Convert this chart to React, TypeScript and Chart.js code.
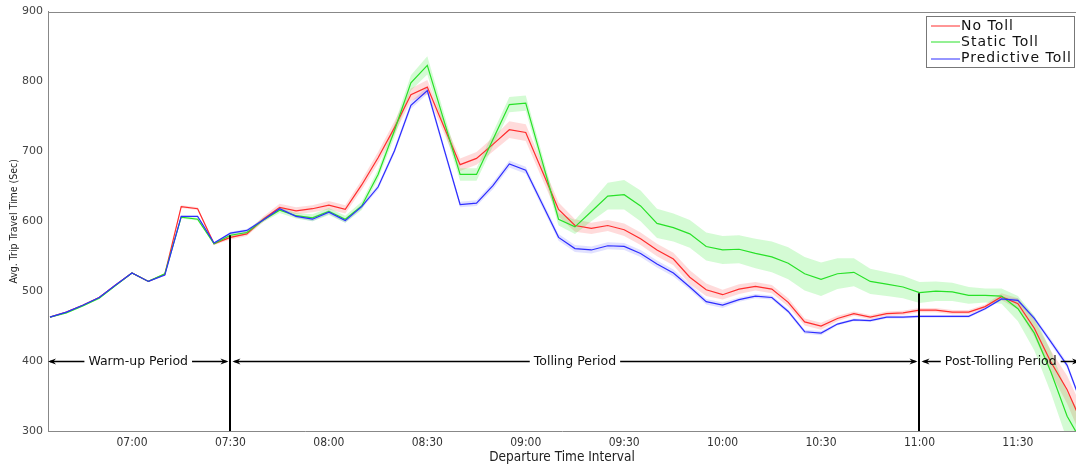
import React, { useEffect, useRef } from "react";
import { Chart, registerables } from "chart.js";

Chart.register(...registerables);

// ---- data ----
const timeLabels = [
  "06:35", "06:40", "06:45", "06:50", "06:55", "07:00", "07:05", "07:10", "07:15", "07:20",
  "07:25", "07:30", "07:35", "07:40", "07:45", "07:50", "07:55", "08:00", "08:05", "08:10",
  "08:15", "08:20", "08:25", "08:30", "08:35", "08:40", "08:45", "08:50", "08:55", "09:00",
  "09:05", "09:10", "09:15", "09:20", "09:25", "09:30", "09:35", "09:40", "09:45", "09:50",
  "09:55", "10:00", "10:05", "10:10", "10:15", "10:20", "10:25", "10:30", "10:35", "10:40",
  "10:45", "10:50", "10:55", "11:00", "11:05", "11:10", "11:15", "11:20", "11:25", "11:30",
  "11:35", "11:40", "11:45", "11:50",
];

const noToll = [
  463, 470, 480, 491, 509, 526, 514, 524, 621, 618,
  568, 577, 582, 603, 620, 615, 618, 623, 617, 652,
  691, 734, 781, 792, 736, 681, 690, 710, 731, 727,
  672, 617, 594, 590, 594, 588, 575, 559, 546, 520,
  502, 495, 503, 507, 503, 484, 456, 450, 461, 468,
  463, 468, 469, 473, 473, 470, 470, 478, 492, 482,
  447, 399, 359, 306,
];

const staticToll = [
  463, 469, 479, 490, 508, 526, 514, 525, 606, 603,
  568, 580, 584, 602, 616, 608, 605, 614, 603, 622,
  667, 730, 798, 823, 745, 667, 667, 717, 767, 769,
  686, 603, 592, 614, 636, 638, 622, 597, 591, 582,
  564, 559, 560, 554, 549, 540, 525, 517, 525, 527,
  514, 510, 506, 498, 500, 499, 494, 494, 493, 475,
  440, 385, 321, 280,
];

const predictiveToll = [
  463, 470, 480, 491, 509, 526, 514, 523, 607, 607,
  569, 583, 587, 602, 618, 607, 603, 613, 601, 621,
  649, 701, 766, 787, 705, 624, 626, 651, 682, 673,
  625, 577, 561, 559, 565, 564, 554, 539, 526, 506,
  485, 480, 488, 493, 491, 471, 442, 440, 453, 459,
  458, 463, 463, 464, 464, 464, 464, 475, 489, 487,
  461, 428, 394, 331,
];

// half-width of the shaded band around each series
const noTollSpread = [
  1, 1, 1, 1, 1, 1, 1, 1, 2, 2,
  2, 3, 3, 4, 5, 5, 5, 6, 6, 7,
  8, 9, 9, 10, 9, 9, 9, 10, 12, 12,
  11, 10, 9, 8, 8, 9, 9, 9, 9, 10,
  9, 7, 7, 6, 6, 6, 5, 5, 4, 3,
  3, 3, 3, 3, 3, 3, 3, 3, 5, 8,
  12, 16, 20, 22,
];

const staticTollSpread = [
  1, 1, 1, 1, 1, 1, 1, 1, 2, 2,
  2, 3, 3, 3, 4, 4, 5, 5, 5, 6,
  7, 9, 11, 13, 11, 9, 9, 10, 11, 11,
  10, 9, 10, 14, 19, 21, 22, 21, 20, 20,
  20, 20, 20, 21, 22, 23, 24, 24, 22, 20,
  18, 17, 16, 15, 14, 13, 12, 10, 11, 18,
  25, 30, 34, 38,
];

const predictiveTollSpread = [
  1, 1, 1, 1, 1, 1, 1, 1, 1, 1,
  1, 2, 2, 2, 2, 2, 3, 3, 3, 3,
  4, 4, 5, 5, 5, 4, 4, 5, 5, 5,
  5, 5, 5, 5, 5, 5, 5, 5, 5, 4,
  4, 4, 3, 3, 3, 3, 3, 3, 2, 2,
  2, 2, 2, 2, 2, 2, 2, 2, 2, 3,
  3, 4, 4, 4,
];

const xTickLabels = ["07:00", "07:30", "08:00", "08:30", "09:00", "09:30", "10:00", "10:30", "11:00", "11:30"];
const xAxisRange = [394.4, 707.7]; // minutes after midnight
const yAxisRange = [300, 900];

const periodLabels = ["Warm-up Period", "Tolling Period", "Post-Tolling Period"];
const periodBounds = ["07:30", "11:00"];
const periodMarkerTops = [580, 497];
const periodArrowValue = 400;

const legendLabels = ["No Toll", "Static Toll", "Predictive Toll"];

const COLORS = {
  red: "rgb(255,45,45)",
  green: "rgb(40,225,40)",
  blue: "rgb(45,45,255)",
  redFill: "rgba(255,40,40,0.17)",
  greenFill: "rgba(40,235,40,0.2)",
  blueFill: "rgba(40,40,255,0.14)",
};

const toMin = (s: string) => {
  const [h, m] = s.split(":").map(Number);
  return h * 60 + m;
};
const fmt = (v: number) => {
  const h = Math.floor(v / 60);
  const m = Math.round(v - h * 60);
  return String(h).padStart(2, "0") + ":" + String(m).padStart(2, "0");
};

const annotationPlugin = {
  id: "periods",
  afterDatasetsDraw(chart: any) {
    const { ctx, chartArea, scales } = chart;
    const xs = scales.x;
    const ys = scales.y;
    const yA = Math.round(ys.getPixelForValue(periodArrowValue)) + 0.5;
    const bx = periodBounds.map((b) => xs.getPixelForValue(toMin(b)));
    const bottom = chartArea.bottom;

    ctx.save();
    ctx.strokeStyle = "#000";
    ctx.lineWidth = 2;
    bx.forEach((x: number, i: number) => {
      ctx.beginPath();
      ctx.moveTo(Math.round(x), bottom);
      ctx.lineTo(Math.round(x), ys.getPixelForValue(periodMarkerTops[i]));
      ctx.stroke();
    });

    ctx.font = "12.5px 'DejaVu Sans'";
    ctx.textAlign = "center";
    ctx.textBaseline = "middle";
    const ends = [
      [chartArea.left, bx[0] - 2],
      [bx[0] + 2, bx[1] - 2],
      [bx[1] + 2, chartArea.right + 4],
    ];
    const arrowHead = (tipX: number, dir: number) => {
      ctx.beginPath();
      ctx.moveTo(tipX, yA);
      ctx.lineTo(tipX + dir * 8, yA - 3);
      ctx.lineTo(tipX + dir * 5.5, yA);
      ctx.lineTo(tipX + dir * 8, yA + 3);
      ctx.closePath();
      ctx.fill();
    };
    ends.forEach(([a, b], i) => {
      const label = periodLabels[i];
      const cx = (a + b) / 2;
      const tw = ctx.measureText(label).width;
      ctx.strokeStyle = "#000";
      ctx.fillStyle = "#000";
      ctx.lineWidth = 1.5;
      ctx.beginPath();
      ctx.moveTo(a + 2, yA);
      ctx.lineTo(cx - tw / 2 - 4, yA);
      ctx.moveTo(cx + tw / 2 + 4, yA);
      ctx.lineTo(b - 2, yA);
      ctx.stroke();
      arrowHead(a, 1);
      arrowHead(b, -1);
      ctx.fillStyle = "#111";
      ctx.fillText(label, cx, yA);
    });

    ctx.strokeStyle = "#888";
    ctx.lineWidth = 1;
    ctx.beginPath();
    ctx.moveTo(chartArea.left, Math.round(chartArea.top) + 0.5);
    ctx.lineTo(chartArea.right, Math.round(chartArea.top) + 0.5);
    ctx.stroke();
    ctx.restore();
  },
  afterDraw(chart: any) {
    const { ctx } = chart;
    const colors = [COLORS.red, COLORS.green, COLORS.blue];
    const box = { x: 926.5, y: 16.5, w: 148, h: 51 };
    ctx.save();
    ctx.fillStyle = "#fff";
    ctx.fillRect(box.x, box.y, box.w, box.h);
    ctx.strokeStyle = "#777";
    ctx.lineWidth = 1;
    ctx.strokeRect(box.x, box.y, box.w, box.h);
    ctx.font = "14px 'DejaVu Sans'";
    (ctx as any).letterSpacing = "1px";
    ctx.textBaseline = "middle";
    ctx.textAlign = "left";
    legendLabels.forEach((lab, i) => {
      const y = 26 + i * 16.3;
      ctx.strokeStyle = colors[i];
      ctx.lineWidth = 1;
      ctx.beginPath();
      ctx.moveTo(931, Math.round(y));
      ctx.lineTo(960, Math.round(y));
      ctx.stroke();
      ctx.fillStyle = "#111";
      ctx.fillText(lab, 961, y);
    });
    ctx.restore();
  },
};

export default function App() {
  const ref = useRef<HTMLCanvasElement>(null);

  useEffect(() => {
    if (!ref.current) return;
    const xs = timeLabels.map(toMin);
    const pts = (vals: number[]) => vals.map((v, i) => ({ x: xs[i], y: v }));
    const bandPts = (vals: number[], spread: number[], sign: number) =>
      vals.map((v, i) => ({ x: xs[i], y: v + sign * spread[i] }));

    const series = [
      { label: legendLabels[2], data: predictiveToll, spread: predictiveTollSpread, line: COLORS.blue, fill: COLORS.blueFill },
      { label: legendLabels[1], data: staticToll, spread: staticTollSpread, line: COLORS.green, fill: COLORS.greenFill },
      { label: legendLabels[0], data: noToll, spread: noTollSpread, line: COLORS.red, fill: COLORS.redFill },
    ];

    const lineSets = series.map((s) => ({
      label: s.label,
      data: pts(s.data),
      borderColor: s.line,
      borderWidth: 1.2,
      pointRadius: 0,
      fill: false,
      tension: 0,
    }));
    const bandSets = series.flatMap((s) => [
      {
        label: s.label + " upper",
        data: bandPts(s.data, s.spread, 1),
        borderWidth: 0,
        borderColor: "rgba(0,0,0,0)",
        backgroundColor: s.fill,
        pointRadius: 0,
        fill: "+1",
        tension: 0,
      },
      {
        label: s.label + " lower",
        data: bandPts(s.data, s.spread, -1),
        borderWidth: 0,
        borderColor: "rgba(0,0,0,0)",
        backgroundColor: "rgba(0,0,0,0)",
        pointRadius: 0,
        fill: false,
        tension: 0,
      },
    ]);

    const chart = new Chart(ref.current, {
      type: "line",
      data: { datasets: [...lineSets, ...bandSets] as any },
      options: {
        responsive: false,
        animation: false,
        devicePixelRatio: 1,
        layout: { padding: { top: 10, right: 0, bottom: 0, left: 0 } },
        plugins: {
          legend: { display: false },
          tooltip: { enabled: false },
        },
        scales: {
          x: {
            type: "linear",
            min: xAxisRange[0],
            max: xAxisRange[1],
            afterBuildTicks: (s: any) => {
              s.ticks = xTickLabels.map((l) => ({ value: toMin(l) }));
            },
            afterFit: (s: any) => {
              s.height = 35;
            },
            ticks: {
              callback: (v: any) => fmt(Number(v)),
              font: { family: "'DejaVu Sans Condensed', 'DejaVu Sans'", size: 12 },
              color: "#333",
              padding: 5,
              maxRotation: 0,
              autoSkip: false,
            },
            grid: { display: false, drawTicks: false },
            border: { display: true, color: "#888" },
            title: {
              display: true,
              text: "Departure Time Interval",
              font: { family: "'DejaVu Sans Condensed', 'DejaVu Sans'", size: 13.5 },
              color: "#222",
              padding: { top: 0, bottom: 0 },
            },
          },
          y: {
            min: yAxisRange[0],
            max: yAxisRange[1],
            afterFit: (s: any) => {
              s.width = 48;
            },
            ticks: {
              stepSize: 100,
              font: { family: "'DejaVu Sans'", size: 11 },
              color: "#444",
              padding: 5,
            },
            grid: { display: false, drawTicks: false },
            border: { display: true, color: "#888" },
            title: {
              display: true,
              text: "Avg. Trip Travel Time (Sec)",
              font: { family: "'DejaVu Sans Condensed', 'DejaVu Sans'", size: 10.5 },
              color: "#222",
              padding: { top: 8, bottom: 0 },
            },
          },
        },
      },
      plugins: [annotationPlugin],
    });
    return () => chart.destroy();
  }, []);

  return (
    <div style={{ position: "fixed", left: 0, top: 0, width: 1076, height: 466, background: "#fff" }}>
      <canvas ref={ref} width={1076} height={466} style={{ width: 1076, height: 466, display: "block" }} />
    </div>
  );
}
